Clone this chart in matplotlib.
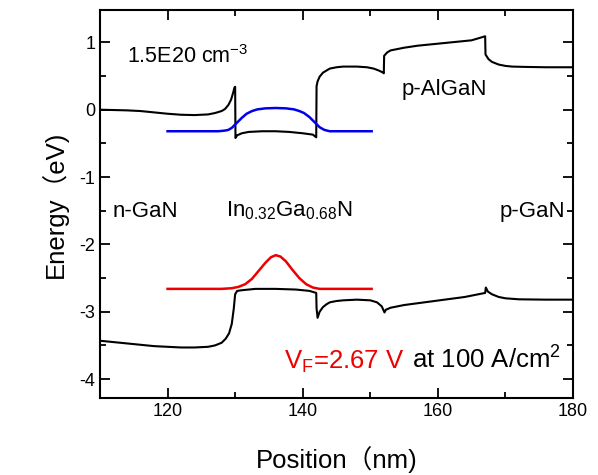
import numpy as np
import matplotlib
matplotlib.use('Agg')
import matplotlib.pyplot as plt

plt.rcParams['font.family'] = ['Liberation Sans', 'Noto Sans CJK SC']
plt.rcParams['mathtext.fontset'] = 'custom'
plt.rcParams['mathtext.rm'] = 'Liberation Sans'
plt.rcParams['mathtext.it'] = 'Liberation Sans:italic'
plt.rcParams['axes.unicode_minus'] = False

# Зона проводимости (чёрная, сверху)
x_cb = [110, 112, 114, 116, 118, 120, 122, 124, 126, 127, 128, 128.5, 129, 129.4, 129.7, 129.9, 130.0,
        130.05, 130.3, 131, 132, 134, 136, 138, 140, 141.5, 142.0,
        142.05, 142.2, 142.5, 143, 143.5, 144, 145, 146, 148, 149.5, 150.5, 151.3, 151.9, 152.0,
        152.05, 152.5, 153, 154, 155, 157, 160, 163, 165, 167.0,
        167.05, 167.5, 168, 169, 170, 171, 173, 176, 180]
y_cb = [0.00, -0.005, -0.01, -0.02, -0.04, -0.06, -0.075, -0.08, -0.07, -0.05, -0.02, 0.01, 0.07, 0.15, 0.25, 0.33, 0.34,
        -0.42, -0.38, -0.35, -0.33, -0.32, -0.32, -0.33, -0.35, -0.37, -0.41,
        0.35, 0.42, 0.49, 0.55, 0.58, 0.61, 0.63, 0.64, 0.64, 0.63, 0.61, 0.58, 0.55, 0.54,
        0.80, 0.85, 0.88, 0.90, 0.92, 0.95, 0.98, 1.01, 1.03, 1.09,
        0.82, 0.75, 0.71, 0.67, 0.65, 0.64, 0.635, 0.63, 0.63]

# Валентная зона (чёрная, снизу)
x_vb = [110, 112, 114, 116, 118, 120, 122, 124, 126, 127, 128, 128.6, 129.1, 129.5, 129.8, 130.0,
        130.3, 131, 133, 136, 139, 141, 142.0,
        142.05, 142.2, 142.5, 143, 143.5, 144, 145, 146, 148, 150, 151, 151.7, 152.1,
        152.3, 153, 155, 158, 161, 164, 166, 167.0,
        167.1, 167.4, 168, 169, 170, 172, 176, 180]
y_vb = [-3.43, -3.45, -3.47, -3.49, -3.51, -3.52, -3.53, -3.53, -3.52, -3.50, -3.46, -3.40, -3.32, -3.18, -2.95, -2.74,
        -2.69, -2.68, -2.66, -2.66, -2.67, -2.69, -2.72,
        -2.95, -3.09, -3.00, -2.93, -2.89, -2.86, -2.84, -2.83, -2.82, -2.83, -2.86, -2.92, -3.01,
        -2.97, -2.94, -2.90, -2.86, -2.82, -2.78, -2.74, -2.72,
        -2.64, -2.70, -2.74, -2.78, -2.80, -2.815, -2.82, -2.82]

# Синяя кривая (электроны)
x_blue = [120, 122, 124, 126, 127.5, 128.5, 129, 129.5, 130, 130.5, 131, 131.7, 132.5, 133.3, 134.5, 136,
          137.5, 138.7, 139.5, 140.2, 141, 141.8, 142.5, 143.2, 144, 146, 148, 150.2]
y_blue = [-0.32, -0.32, -0.32, -0.32, -0.32, -0.31, -0.30, -0.27, -0.22, -0.17, -0.12, -0.06, -0.02, 0.005, 0.02, 0.025,
          0.02, 0.005, -0.02, -0.05, -0.11, -0.19, -0.26, -0.30, -0.32, -0.32, -0.32, -0.32]

# Красная кривая (дырки)
x_red = [120, 124, 128, 129.5, 130.5, 131.5, 132.5, 133.5, 134.5, 135.3, 136, 136.7, 137.5, 138.5, 139.5,
         140.5, 141.5, 142.5, 144, 148, 150.2]
y_red = [-2.66, -2.66, -2.66, -2.65, -2.63, -2.59, -2.51, -2.39, -2.27, -2.19, -2.16, -2.18, -2.25, -2.38, -2.50,
         -2.59, -2.64, -2.66, -2.66, -2.66, -2.66]

fig = plt.figure(figsize=(5.98, 4.75), dpi=100)
ax = fig.add_axes([100/598, 1 - 398/475, 473/598, 388/475])

ax.plot(x_cb, y_cb, color='black', lw=1.5)
ax.plot(x_vb, y_vb, color='black', lw=1.5)
ax.plot(x_blue, y_blue, color='#0000ee', lw=1.8)
ax.plot(x_red, y_red, color='#ee0000', lw=1.8)

ax.set_xlim(110, 180)
ax.set_ylim(-4.28, 1.48)
ax.set_xticks([120, 140, 160, 180])
ax.set_xticks([130, 150, 170], minor=True)
ax.set_yticks([-4, -3, -2, -1, 0, 1])
ax.set_yticks([-3.5, -2.5, -1.5, -0.5, 0.5], minor=True)
ax.tick_params(which='both', direction='in', top=True, right=True, width=1.3, labelsize=13)
ax.tick_params(which='major', length=7)
ax.tick_params(which='minor', length=4)
for s in ax.spines.values():
    s.set_linewidth(1.5)

ax.set_xlabel('Position（nm)', fontsize=18.5, labelpad=19)
ax.set_ylabel('Energy（eV)', fontsize=18.5, labelpad=8)

fs = 16
ax.text(114, 0.70, r'1.5E20 cm$^{\mathregular{-3}}$', fontsize=15.5, va='baseline')
ax.text(154.6, 0.22, 'p-AlGaN', fontsize=fs, va='baseline')
ax.text(111.9, -1.59, 'n-GaN', fontsize=fs, va='baseline')
ax.text(128.7, -1.59, r'In$_{0.32}$Ga$_{0.68}$N', fontsize=fs, va='baseline')
ax.text(178.8, -1.59, 'p-GaN', fontsize=fs, va='baseline', ha='right')

t1 = ax.text(137.3, -3.85, r'V$_{\mathregular{F}}$=2.67 V', fontsize=18.5, va='baseline', color='#ee0000')
fig.canvas.draw()
bb = t1.get_window_extent()
x_end = ax.transData.inverted().transform((bb.x1, bb.y0))[0]
ax.text(x_end, -3.85, r' at 100 A/cm$^2$', fontsize=18.5, va='baseline', color='black')

fig.savefig('out.png', dpi=100)
